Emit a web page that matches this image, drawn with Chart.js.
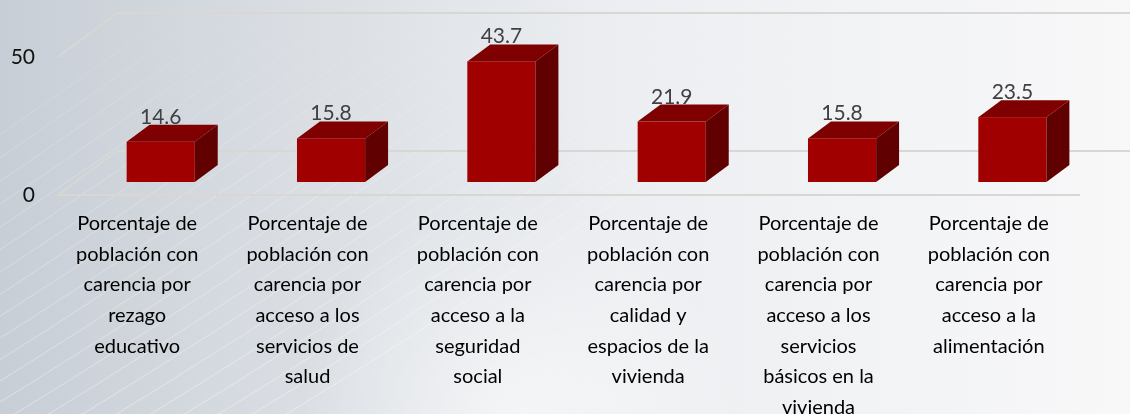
<!DOCTYPE html>
<html lang="es">
<head>
<meta charset="UTF-8">
<title>Carencias sociales</title>
<style>
  html, body { margin: 0; padding: 0; }
  body { width: 1130px; height: 414px; overflow: hidden; }
  .chart-box { position: relative; width: 1130px; height: 414px; }
</style>
</head>
<body>
<div class="chart-box"><canvas id="carencias"></canvas></div>
<script src="https://cdn.jsdelivr.net/npm/chart.js@4"></script>
<script>
// datos
const categorias = [
  ['Porcentaje de', 'población con', 'carencia por', 'rezago', 'educativo'],
  ['Porcentaje de', 'población con', 'carencia por', 'acceso a los', 'servicios de', 'salud'],
  ['Porcentaje de', 'población con', 'carencia por', 'acceso a la', 'seguridad', 'social'],
  ['Porcentaje de', 'población con', 'carencia por', 'calidad y', 'espacios de la', 'vivienda'],
  ['Porcentaje de', 'población con', 'carencia por', 'acceso a los', 'servicios', 'básicos en la', 'vivienda'],
  ['Porcentaje de', 'población con', 'carencia por', 'acceso a la', 'alimentación']
];
const porcentajes = [14.6, 15.8, 43.7, 21.9, 15.8, 23.5];
const ticksY = [0, 50];

// perspectiva oblicua: cuanto se desplaza en x por cada px de profundidad
const OBLICUO = 1.35;
const PROF_FRENTE = 13;   // cara frontal de la barra
const PROF_BARRA = 17;    // fondo de la barra
const PROF_PARED = 44;    // pared del fondo

const LINEA = '#d9d7d3';

const fondo = {
  id: 'fondo',
  beforeDraw(chart) {
    const { ctx, width, height, chartArea, scales } = chart;
    ctx.save();
    const g = ctx.createLinearGradient(0, 0, width, 0);
    g.addColorStop(0, '#c8ced6');
    g.addColorStop(0.3, '#dce0e5');
    g.addColorStop(0.55, '#eceef1');
    g.addColorStop(1, '#f8f8f9');
    ctx.fillStyle = g;
    ctx.fillRect(0, 0, width, height);

    // resplandor claro abajo al centro
    const h = ctx.createRadialGradient(520, 420, 10, 520, 420, 220);
    h.addColorStop(0, 'rgba(255,255,255,0.55)');
    h.addColorStop(1, 'rgba(255,255,255,0)');
    ctx.fillStyle = h;
    ctx.fillRect(0, 0, width, height);

    // vetas claras en diagonal
    ctx.lineWidth = 1;
    for (let k = 0; k < 22; k++) {
      const x = -460 + k * 34;
      const y = height + 20;
      const a = ctx.createLinearGradient(x, 0, x + 700, 0);
      a.addColorStop(0, 'rgba(255,255,255,0.4)');
      a.addColorStop(0.5, 'rgba(255,255,255,0.25)');
      a.addColorStop(1, 'rgba(255,255,255,0)');
      ctx.strokeStyle = a;
      ctx.beginPath();
      ctx.moveTo(x, y);
      ctx.quadraticCurveTo(x + 330, y - 200, x + 700, y - 470);
      ctx.stroke();
    }

    // paredes y rejilla
    const y = scales.y;
    const x0 = chartArea.left, x1 = chartArea.right;
    const dx = PROF_PARED * OBLICUO;
    ctx.strokeStyle = LINEA;
    ctx.lineWidth = 2;
    ticksY.forEach(v => {
      const py = y.getPixelForValue(v);
      ctx.beginPath();
      ctx.moveTo(x0, py);
      ctx.lineTo(x0 + dx, py - PROF_PARED);
      ctx.lineTo(x1 + dx, py - PROF_PARED);
      ctx.stroke();
    });
    const p0 = y.getPixelForValue(0);
    ctx.beginPath();
    ctx.moveTo(x0, p0);
    ctx.lineTo(x1, p0);
    ctx.stroke();
    ctx.restore();
  }
};

const cajas = {
  id: 'cajas',
  afterDatasetsDraw(chart) {
    const { ctx } = chart;
    const meta = chart.getDatasetMeta(0);
    const fx = PROF_FRENTE * OBLICUO;
    const bx = PROF_BARRA * OBLICUO;
    ctx.save();
    meta.data.forEach((bar, i) => {
      const { x, y, base, width } = bar.getProps(['x', 'y', 'base', 'width'], true);
      const l = x - width / 2 + fx, r = x + width / 2 + fx;
      const t = y - PROF_FRENTE, b = base - PROF_FRENTE;
      // frente
      ctx.fillStyle = '#a00000';
      ctx.fillRect(l, t, r - l, b - t);
      // tapa
      ctx.fillStyle = '#7f0000';
      ctx.beginPath();
      ctx.moveTo(l, t);
      ctx.lineTo(r, t);
      ctx.lineTo(r + bx, t - PROF_BARRA);
      ctx.lineTo(l + bx, t - PROF_BARRA);
      ctx.closePath();
      ctx.fill();
      // costado
      ctx.fillStyle = '#600000';
      ctx.beginPath();
      ctx.moveTo(r, t);
      ctx.lineTo(r + bx, t - PROF_BARRA);
      ctx.lineTo(r + bx, b - PROF_BARRA);
      ctx.lineTo(r, b);
      ctx.closePath();
      ctx.fill();
      // etiqueta de valor
      ctx.fillStyle = '#404040';
      ctx.font = '21px Lato';
      ctx.textAlign = 'center';
      ctx.textBaseline = 'alphabetic';
      ctx.fillText(porcentajes[i].toFixed(1), (l + r) / 2, t - PROF_BARRA - 1);
    });
    ctx.restore();
  }
};

new Chart(document.getElementById('carencias'), {
  type: 'bar',
  data: {
    labels: categorias,
    datasets: [{
      data: porcentajes,
      backgroundColor: 'rgba(0,0,0,0)',
      borderWidth: 0,
      categoryPercentage: 1,
      barPercentage: 0.4
    }]
  },
  options: {
    responsive: true,
    maintainAspectRatio: false,
    animation: false,
    layout: { padding: { top: 57, right: 50, left: 0, bottom: 0 } },
    plugins: { legend: { display: false }, tooltip: { enabled: false } },
    scales: {
      x: {
        grid: { display: false, drawTicks: false },
        border: { display: false },
        afterFit(s) { s.height = 219; },
        ticks: {
          autoSkip: false,
          maxRotation: 0,
          padding: 13,
          labelOffset: -6,
          color: '#000000',
          font: { family: 'Lato', size: 20, lineHeight: 1.535 }
        }
      },
      y: {
        min: 0,
        max: 50,
        grid: { display: false, drawTicks: false },
        border: { display: false },
        afterFit(s) { s.width = 58; },
        afterBuildTicks(s) { s.ticks = ticksY.map(v => ({ value: v })); },
        ticks: {
          padding: 23,
          color: '#111111',
          font: { family: 'Lato', size: 21 }
        }
      }
    }
  },
  plugins: [fondo, cajas]
});
</script>
</body>
</html>
